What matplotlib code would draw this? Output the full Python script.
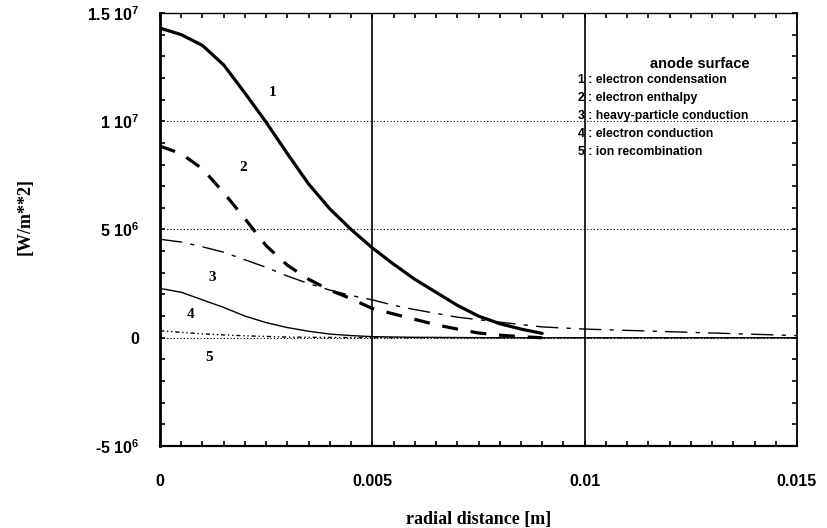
import matplotlib
matplotlib.use("Agg")
import matplotlib.pyplot as plt
from matplotlib.ticker import MultipleLocator, FixedLocator

# radial distance [m] and heat-flux components [W/m**2]
x1 = [0, 0.0005, 0.001, 0.0015, 0.002, 0.0025, 0.003, 0.0035, 0.004, 0.0045,
      0.005, 0.0055, 0.006, 0.0065, 0.007, 0.0075, 0.008, 0.0085, 0.009]
cond_e6 = [14.3, 14.0, 13.5, 12.6, 11.3, 9.95, 8.5, 7.1, 5.95, 5.0,
           4.15, 3.4, 2.7, 2.1, 1.5, 1.0, 0.65, 0.4, 0.2]

x2 = [0, 0.0005, 0.001, 0.0015, 0.002, 0.0025, 0.003, 0.0035, 0.004, 0.0045,
      0.005, 0.0055, 0.006, 0.0065, 0.007, 0.0075, 0.008, 0.0085, 0.009]
enth_e6 = [8.85, 8.5, 7.8, 6.7, 5.5, 4.25, 3.35, 2.7, 2.2, 1.8,
           1.35, 1.1, 0.85, 0.6, 0.4, 0.22, 0.12, 0.05, 0.0]

x3 = [0, 0.0005, 0.001, 0.0015, 0.002, 0.0025, 0.003, 0.0035, 0.004, 0.0045,
      0.005, 0.0055, 0.006, 0.007, 0.008, 0.009, 0.01, 0.011, 0.012, 0.013,
      0.014, 0.015]
heavy_e6 = [4.55, 4.42, 4.2, 3.95, 3.6, 3.25, 2.85, 2.5, 2.2, 1.95,
            1.75, 1.5, 1.3, 0.95, 0.72, 0.5, 0.4, 0.34, 0.28, 0.22,
            0.16, 0.1]

x4 = [0, 0.0005, 0.001, 0.0015, 0.002, 0.0025, 0.003, 0.0035, 0.004, 0.0045,
      0.005, 0.006, 0.008, 0.01, 0.015]
econd_e6 = [2.28, 2.1, 1.75, 1.4, 1.0, 0.7, 0.47, 0.3, 0.17, 0.1,
            0.05, 0.02, 0.0, 0.0, 0.0]

x5 = [0, 0.0005, 0.001, 0.0015, 0.002, 0.003, 0.005, 0.01, 0.015]
recomb_e6 = [0.32, 0.25, 0.18, 0.13, 0.09, 0.03, 0.0, 0.0, 0.0]

legend_lines = ["1 : electron condensation", "2 : electron enthalpy",
                "3 : heavy-particle conduction", "4 : electron conduction",
                "5 : ion recombination"]

ytick_vals = [-5e6, 0, 5e6, 1e7, 1.5e7]
ytick_labels = [r"-5 10$^{6}$", "0", r"5 10$^{6}$", r"1 10$^{7}$", r"1.5 10$^{7}$"]
xtick_vals = [0, 0.005, 0.01, 0.015]
xtick_labels = ["0", "0.005", "0.01", "0.015"]

plt.rcParams["mathtext.fontset"] = "custom"
plt.rcParams["mathtext.rm"] = "Liberation Sans:bold"
plt.rcParams["mathtext.it"] = "Liberation Sans:bold"
plt.rcParams["mathtext.bf"] = "Liberation Sans:bold"

fig = plt.figure(figsize=(8.27, 5.28), dpi=100)
ax = fig.add_axes([0.1935, 0.1553, 0.7702, 0.8201])


def scale(v):
    return [a * 1e6 for a in v]


ax.plot(x1, scale(cond_e6), color="black", lw=2.3, solid_capstyle="round")
ax.plot(x2, scale(enth_e6), color="black", lw=2.3, dashes=(5, 4))
ax.plot(x3, scale(heavy_e6), color="black", lw=1.0, dashes=(16, 6, 3, 6))
ax.plot(x4, scale(econd_e6), color="black", lw=1.0)
ax.plot(x5, scale(recomb_e6), color="black", lw=1.0, dashes=(3, 2, 1, 2, 1, 2))

# grid: solid verticals, dotted horizontals
for xv in [0.005, 0.01]:
    ax.axvline(xv, color="black", lw=1.2, zorder=1)
for yv in [0, 5e6, 1e7]:
    ax.axhline(yv, color="black", lw=0.8, ls=(0, (1, 2)), zorder=1)

ax.set_xlim(0, 0.015)
ax.set_ylim(-5e6, 1.5e7)
ax.xaxis.set_major_locator(FixedLocator(xtick_vals))
ax.set_xticklabels(xtick_labels)
ax.yaxis.set_major_locator(FixedLocator(ytick_vals))
ax.set_yticklabels(ytick_labels)
ax.xaxis.set_minor_locator(MultipleLocator(0.0005))
ax.yaxis.set_minor_locator(MultipleLocator(1e6))
ax.tick_params(which="both", direction="in", top=True, right=True,
               length=3.5, width=1.2, color="black")
ax.tick_params(axis="x", which="major", pad=20)
ax.tick_params(axis="y", which="major", pad=15)
for lab in ax.get_xticklabels() + ax.get_yticklabels():
    lab.set_fontfamily("Liberation Sans")
    lab.set_fontweight("bold")
    lab.set_fontsize(11.5)

for side, w in [("left", 2.0), ("bottom", 1.6), ("top", 1.0), ("right", 1.3)]:
    ax.spines[side].set_linewidth(w)

ax.set_xlabel("radial distance [m]", family="Liberation Serif",
              fontweight="bold", fontsize=13, labelpad=16)
fig.text(0.030, 0.59, "[W/m**2]", rotation=90, ha="center", va="center",
         family="Liberation Serif", fontweight="bold", fontsize=13)

# curve numbers
for num, (lx, ly) in zip("12345", [(0.00265, 1.135e7), (0.00195, 7.85e6),
                                   (0.00122, 2.8e6), (0.00071, 1.06e6),
                                   (0.00116, -0.92e6)]):
    ax.text(lx, ly, num, ha="center", va="center", family="Liberation Serif",
            fontweight="bold", fontsize=11)

ax.text(0.0127, 1.265e7, "anode surface", ha="center", va="center",
        family="Liberation Sans", fontweight="bold", fontsize=10.5)
for i, line in enumerate(legend_lines):
    ax.text(0.00984, 1.19e7 - i * 0.083e7, line, ha="left", va="center",
            family="Liberation Sans", fontweight="bold", fontsize=8.8)

fig.savefig("out.png", dpi=100)
